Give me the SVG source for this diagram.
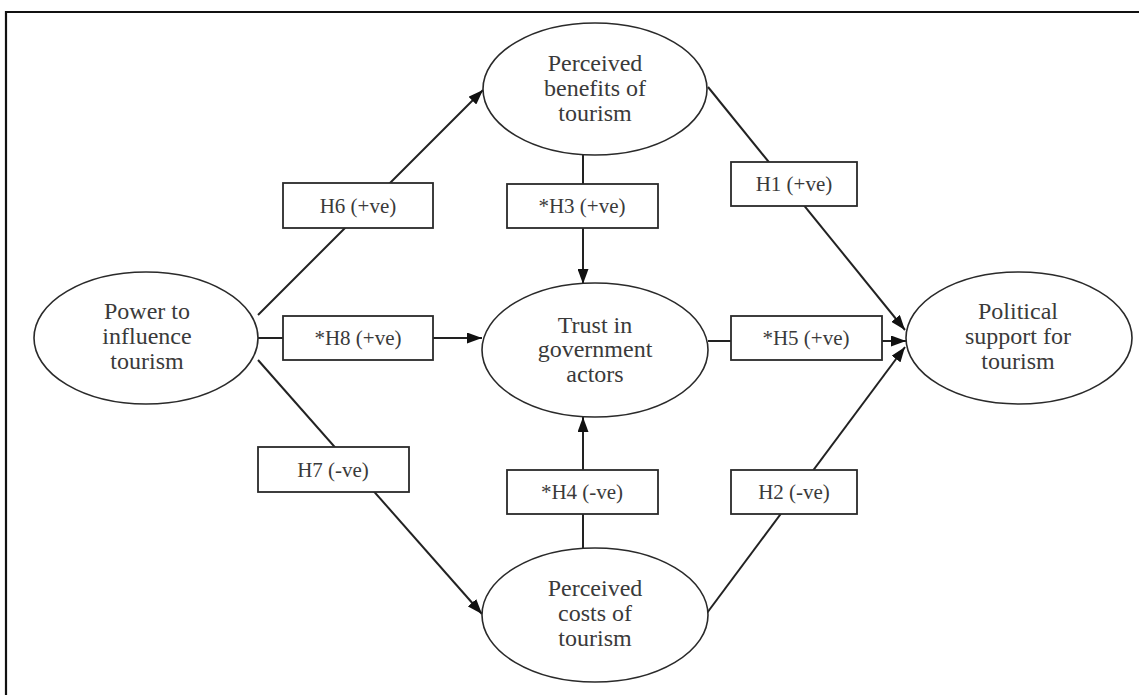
<svg xmlns="http://www.w3.org/2000/svg" width="1139" height="695" viewBox="0 0 1139 695">
<defs>
<style>
.frame{fill:none;stroke:#111;stroke-width:2.2}
.ell{fill:#fff;stroke:#2a2a2a;stroke-width:1.6}
.box{fill:#fff;stroke:#2a2a2a;stroke-width:1.8}
.ln{fill:none;stroke:#222;stroke-width:2}
.et{font-family:'Liberation Serif','DejaVu Serif','Times New Roman',serif;font-size:24px;fill:#3a3a3a;text-anchor:middle}
.bt{font-family:'Liberation Serif','DejaVu Serif','Times New Roman',serif;font-size:21px;fill:#3a3a3a;text-anchor:middle}
</style>
<marker id="arr" viewBox="0 0 15 11" refX="15" refY="5.5" markerWidth="15" markerHeight="11" markerUnits="userSpaceOnUse" orient="auto">
<path d="M0,0 L15,5.5 L0,11 z" fill="#111"/>
</marker>
</defs>
<rect width="1139" height="695" fill="#fff"/>
<path class="frame" d="M6,700 L6,12 L1145,12"/>

<g id="connectors">
<line class="ln" x1="258" y1="315" x2="483" y2="90" marker-end="url(#arr)"/>
<line class="ln" x1="258" y1="338" x2="482" y2="338" marker-end="url(#arr)"/>
<line class="ln" x1="258" y1="360" x2="482" y2="614" marker-end="url(#arr)"/>
<line class="ln" x1="583" y1="155" x2="583" y2="284" marker-end="url(#arr)"/>
<line class="ln" x1="583" y1="549" x2="583" y2="417" marker-end="url(#arr)"/>
<line class="ln" x1="708" y1="87" x2="905" y2="330" marker-end="url(#arr)"/>
<line class="ln" x1="708" y1="341" x2="906" y2="341" marker-end="url(#arr)"/>
<line class="ln" x1="707" y1="613" x2="905" y2="347" marker-end="url(#arr)"/>
</g>

<g id="power">
<ellipse class="ell" cx="146" cy="338" rx="112" ry="66"/>
<text class="et" x="147" y="319">Power to</text>
<text class="et" x="147" y="344">influence</text>
<text class="et" x="147" y="369">tourism</text>
</g>
<g id="benefits">
<ellipse class="ell" cx="595" cy="89" rx="112" ry="66"/>
<text class="et" x="595" y="71">Perceived</text>
<text class="et" x="595" y="96">benefits of</text>
<text class="et" x="595" y="121">tourism</text>
</g>
<g id="trust">
<ellipse class="ell" cx="595" cy="350" rx="113" ry="67"/>
<text class="et" x="595" y="333">Trust in</text>
<text class="et" x="595" y="357">government</text>
<text class="et" x="595" y="382">actors</text>
</g>
<g id="costs">
<ellipse class="ell" cx="595" cy="615" rx="113" ry="67"/>
<text class="et" x="595" y="596">Perceived</text>
<text class="et" x="595" y="621">costs of</text>
<text class="et" x="595" y="646">tourism</text>
</g>
<g id="political">
<ellipse class="ell" cx="1019" cy="338" rx="113" ry="66"/>
<text class="et" x="1018" y="319">Political</text>
<text class="et" x="1018" y="344">support for</text>
<text class="et" x="1018" y="369">tourism</text>
</g>

<g id="h6"><rect class="box" x="283" y="183" width="150" height="45"/><text class="bt" x="358" y="213">H6 (+ve)</text></g>
<g id="h8"><rect class="box" x="283" y="316" width="150" height="44"/><text class="bt" x="358" y="345">*H8 (+ve)</text></g>
<g id="h7"><rect class="box" x="258" y="447" width="151" height="45"/><text class="bt" x="333" y="477">H7 (-ve)</text></g>
<g id="h3"><rect class="box" x="507" y="184" width="151" height="44"/><text class="bt" x="582" y="213">*H3 (+ve)</text></g>
<g id="h4"><rect class="box" x="507" y="470" width="151" height="44"/><text class="bt" x="582" y="499">*H4 (-ve)</text></g>
<g id="h1"><rect class="box" x="731" y="162" width="126" height="44"/><text class="bt" x="794" y="191">H1 (+ve)</text></g>
<g id="h5"><rect class="box" x="731" y="316" width="151" height="44"/><text class="bt" x="806" y="345">*H5 (+ve)</text></g>
<g id="h2"><rect class="box" x="731" y="470" width="126" height="44"/><text class="bt" x="794" y="499">H2 (-ve)</text></g>
</svg>
